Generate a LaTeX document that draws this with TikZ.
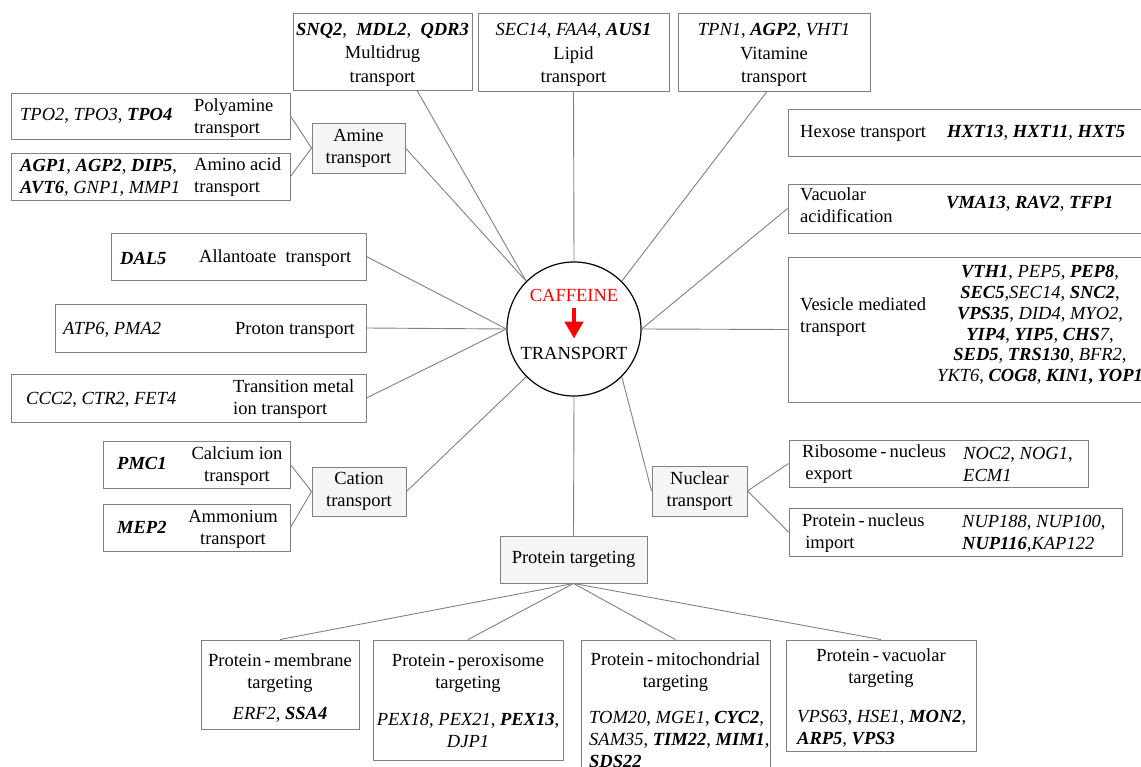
\documentclass[tikz,border=0pt]{standalone}
\usepackage{fontspec}
\setmainfont{LiberationSerif}[Extension=.ttf, UprightFont=*-Regular, BoldFont=*-Bold, ItalicFont=*-Italic, BoldItalicFont=*-BoldItalic]
\usetikzlibrary{arrows.meta}
\newcommand{\gi}[1]{\textit{#1}}
\newcommand{\gb}[1]{\textbf{\textit{#1}}}
\newcommand{\dsh}{\,-\,}

\begin{document}
\begin{tikzpicture}[x=1pt, y=-1pt, every node/.style={font=\rmfamily\fontsize{18.5}{22}\selectfont}]
    \definecolor{ln}{RGB}{128,128,128}
    \definecolor{bd}{RGB}{128,128,128}
    \definecolor{gf}{RGB}{245,245,245}
    \tikzstyle{box}  = [draw=bd, line width=0.9pt, inner sep=0pt, rectangle]
    \tikzstyle{grp}  = [box, fill=gf, align=center]
    \tikzstyle{con}  = [draw=ln, line width=0.9pt]
    \tikzstyle{lft}  = [anchor=west, align=left, inner sep=0pt]
    \tikzstyle{mid}  = [align=center, inner sep=0pt]
    \tikzstyle{cafarrow} = [red, line width=4.5pt, -{Triangle[width=18pt, length=17pt]}]

    \useasboundingbox (0,0) rectangle (1141,767);

    % Centre.
    \node[circle, draw, line width=1.2pt, minimum size=134pt, inner sep=0pt] (tr) at (574,329) {};
    \node[inner sep=0pt, text=red] (caf) at (574,295) {CAFFEINE};
    \node[inner sep=0pt] (tsp) at (574,353) {TRANSPORT};
    \draw[cafarrow, shorten <=7pt, shorten >=8pt] (caf) -- (tsp);

    % Boxes above.
    \node[box, minimum width=179, minimum height=77] (multi) at (382.5,51.5) {};
    \node[box, minimum width=191, minimum height=78] (lipid) at (573.5,52) {};
    \node[box, minimum width=192, minimum height=78] (vit)   at (774,52) {};
    \node[mid, font=\fontsize{18.5}{23.5}\selectfont] (multit) at (382.5,54.5)
        {\gb{SNQ2}, \ \gb{MDL2}, \ \gb{QDR3}\\Multidrug\\transport};
    \node[mid, font=\fontsize{18.5}{23.5}\selectfont] (lipidt) at (573.5,55)
        {\gi{SEC14}, \gi{FAA4}, \gb{AUS1}\\Lipid\\transport};
    \node[mid, font=\fontsize{18.5}{23.5}\selectfont] (vitt) at (774,55)
        {\gi{TPN1}, \gb{AGP2}, \gi{VHT1}\\Vitamine\\transport};

    % Boxes on the left.
    \node[box, minimum width=279, minimum height=46] (poly)   at (150.5,116) {};
    \node[box, minimum width=279, minimum height=47] (amino)  at (150.5,176.5) {};
    \node[grp, minimum width=93, minimum height=50] (amine)   at (358.5,148) {Amine\\transport};
    \node[box, minimum width=255, minimum height=47] (allan)  at (238.5,256.5) {};
    \node[box, minimum width=311, minimum height=48] (proton) at (210.5,328) {};
    \node[box, minimum width=355, minimum height=48] (metal)  at (188.5,398) {};
    \node[box, minimum width=187, minimum height=47] (calc)   at (196.5,464.5) {};
    \node[box, minimum width=187, minimum height=47] (ammon)  at (196.5,527.5) {};
    \node[grp, minimum width=94, minimum height=49] (cation)  at (359,491.5) {Cation\\transport};

    \node[lft] (polyg)   at (20,116)    {\gi{TPO2}, \gi{TPO3}, \gb{TPO4}};
    \node[lft] (polyl)   at (194,118.5) {Polyamine\\transport};
    \node[lft] (aminog)  at (20,177.5)  {\gb{AGP1}, \gb{AGP2}, \gb{DIP5},\\\gb{AVT6}, \gi{GNP1}, \gi{MMP1}};
    \node[lft] (aminol)  at (194,177.5) {Amino acid\\transport};
    \node[lft] (allang)  at (120,258)   {\gb{DAL5}};
    \node[lft] (allanl)  at (199,258)   {Allantoate \ transport};
    \node[lft] (protong) at (63,330)    {\gi{ATP6}, \gi{PMA2}};
    \node[anchor=east, inner sep=0pt] (protonl) at (355,330) {Proton transport};
    \node[lft] (metalg)  at (26,400)    {\gi{CCC2}, \gi{CTR2}, \gi{FET4}};
    \node[lft] (metall)  at (233,399)   {Transition metal\\ion transport};
    \node[lft] (calcg)   at (117,463)   {\gb{PMC1}};
    \node[mid] (calcl)   at (237,466)   {Calcium ion\\transport};
    \node[lft] (ammong)  at (117,527)   {\gb{MEP2}};
    \node[mid] (ammonl)  at (233,529)   {Ammonium\\transport};

    % Boxes on the right.
    \node[box, minimum width=362, minimum height=47]  (hexose) at (969,132.5) {};
    \node[box, minimum width=362, minimum height=49]  (vacu)   at (969,208.5) {};
    \node[box, minimum width=362, minimum height=145] (vesic)  at (969,329.5) {};
    \node[grp, minimum width=95, minimum height=50]   (nuclear) at (699.5,491) {Nuclear\\transport};
    \node[box, minimum width=299, minimum height=47]  (ribo)   at (938.5,463.5) {};
    \node[box, minimum width=333, minimum height=48]  (pnuc)   at (955.5,532) {};

    \node[lft] (hexosel) at (800,133) {Hexose transport};
    \node[lft] (hexoseg) at (947,133) {\gb{HXT13}, \gb{HXT11}, \gb{HXT5}};
    \node[lft] (vacul)   at (800,205) {Vacuolar\\acidification};
    \node[lft] (vacug)   at (946,204) {\gb{VMA13}, \gb{RAV2}, \gb{TFP1}};
    \node[lft] (vesicl)  at (800,317.5) {Vesicle mediated\\transport};
    \node[mid, font=\fontsize{18.5}{20.8}\selectfont] (vesicg) at (1040,325)
        {\gb{VTH1}, \gi{PEP5}, \gb{PEP8},\\
         \gb{SEC5},\gi{SEC14}, \gb{SNC2},\\
         \gb{VPS35}, \gi{DID4}, \gi{MYO2},\\
         \gb{YIP4}, \gb{YIP5}, \gb{CHS}\gi{7},\\
         \gb{SED5}, \gb{TRS130}, \gi{BFR2},\\
         \gi{YKT6}, \gb{COG8}, \textbf{\gb{KIN1}, \gb{YOP1}}};
    \node[lft] (ribol)  at (802,464.5) {Ribosome\dsh nucleus\\\,export};
    \node[lft] (ribog)  at (963,464.5) {\gi{NOC2}, \gi{NOG1},\\\gi{ECM1}};
    \node[lft] (pnucl)  at (802,533.5) {Protein\dsh nucleus\\\,import};
    \node[lft] (pnucg)  at (962,533.5) {\gi{NUP188}, \gi{NUP100},\\\gb{NUP116},\gi{KAP122}};

    % Boxes below.
    \node[grp, minimum width=147, minimum height=47] (ptarg) at (573.5,559.5) {Protein targeting};
    \node[box, minimum width=158, minimum height=89]  (memb)  at (280,684.5) {};
    \node[box, minimum width=190, minimum height=120] (perox) at (468,700) {};
    \node[box, minimum width=189, minimum height=150] (mito)  at (675.5,715) {};
    \node[box, minimum width=190, minimum height=111] (pvac)  at (881,695.5) {};

    \node[mid] (membl)  at (280,673)   {Protein\dsh membrane\\targeting};
    \node[mid] (membg)  at (280,715)   {\gi{ERF2}, \gb{SSA4}};
    \node[mid] (peroxl) at (468,673)   {Protein\dsh peroxisome\\targeting};
    \node[mid] (peroxg) at (468,730.5) {\gi{PEX18}, \gi{PEX21}, \gb{PEX13},\\\gi{DJP1}};
    \node[mid] (mitol)  at (675.5,672) {Protein\dsh mitochondrial\\targeting};
    \node[lft] (mitog)  at (589,739)   {\gi{TOM20}, \gi{MGE1}, \gb{CYC2},\\\gi{SAM35}, \gb{TIM22}, \gb{MIM1},\\\gb{SDS22}};
    \node[mid] (pvacl)  at (881,668)   {Protein\dsh vacuolar\\targeting};
    \node[lft] (pvacg)  at (797,729)   {\gi{VPS63}, \gi{HSE1}, \gb{MON2},\\\gb{ARP5}, \gb{VPS3}};

    % Connectors.
    \draw[con] ([xshift=34.5pt]multi.south) -- (tr.135);
    \draw[con] (lipid.south) -- (tr.north);
    \draw[con] ([xshift=-7pt]vit.south) -- (tr.45);
    \draw[con] (amine.east) -- (tr.135);
    \draw[con] (poly.east) -- (amine.west);
    \draw[con] (amino.east) -- (amine.west);
    \foreach \b in {allan, proton, metal}
        \draw[con] (\b.east) -- (tr.west);
    \draw[con] (cation.east) -- (tr.225);
    \draw[con] (calc.east) -- (cation.west);
    \draw[con] (ammon.east) -- (cation.west);
    \draw[con] (vacu.west) -- (tr.east);
    \draw[con] (vesic.west) -- (tr.east);
    \draw[con] (nuclear.west) -- (tr.315);
    \draw[con] (nuclear.east) -- (ribo.west);
    \draw[con] (nuclear.east) -- (pnuc.west);
    \draw[con] (tr.south) -- (ptarg.north);
    \foreach \b in {memb, perox, mito, pvac}
        \draw[con] (ptarg.south) -- (\b.north);
\end{tikzpicture}
\end{document}
